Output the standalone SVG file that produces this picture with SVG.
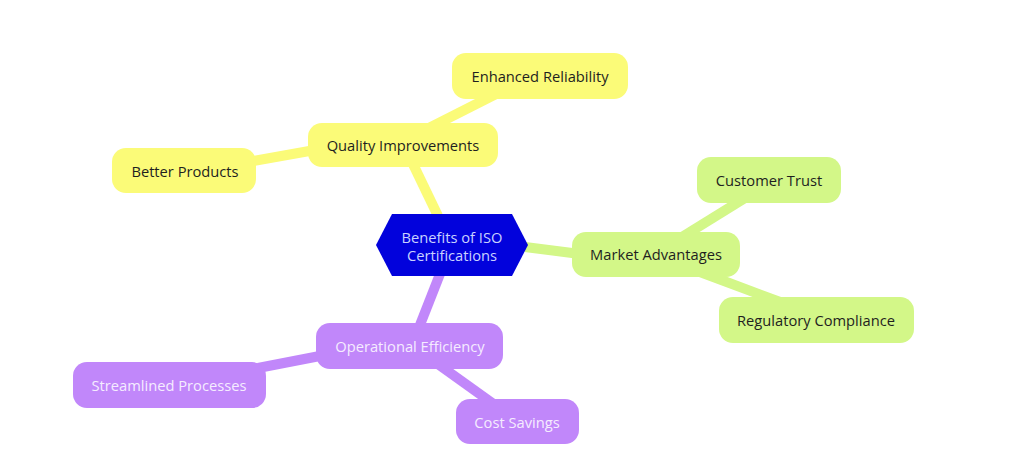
<svg xmlns="http://www.w3.org/2000/svg" width="1024" height="458" viewBox="0 0 1024 458">
<style>
.t{font-family:"Open Sans","Noto Sans","Liberation Sans",sans-serif;font-size:14.7px;text-anchor:middle;dominant-baseline:central}
.dk{fill:#1f1f1f}
.lt{fill:#f5ecff}
.y{fill:#fbfb78}
.g{fill:#d3f788}
.p{fill:#c187fa}
.cy{stroke:#fbfb78}
.cg{stroke:#d3f788}
.cp{stroke:#c187fa}
#connectors line{stroke-width:10;stroke-linecap:butt}
</style>
<rect width="1024" height="458" fill="#ffffff"/>
<g id="connectors">
<line class="cy" x1="438" y1="216" x2="412" y2="162"/>
<line class="cy" x1="425" y1="130" x2="500" y2="92"/>
<line class="cy" x1="315" y1="150" x2="248" y2="162"/>
<line class="cg" x1="525" y1="247" x2="580" y2="254"/>
<line class="cg" x1="682" y1="237" x2="745" y2="198"/>
<line class="cg" x1="700" y1="272" x2="780" y2="302"/>
<line class="cp" x1="440" y1="274" x2="418" y2="330"/>
<line class="cp" x1="325" y1="355" x2="258" y2="368"/>
<line class="cp" x1="435" y1="362" x2="495" y2="405"/>
</g>
<g id="center">
<polygon points="376,245 392,214 512,214 528,245 512,276 392,276" fill="#0202dc"/>
<text class="t" x="452" y="237" fill="#c9d2ff">Benefits of ISO</text>
<text class="t" x="452" y="255" fill="#c9d2ff">Certifications</text>
</g>
<g id="quality">
<rect class="y" x="308" y="123" width="190" height="44" rx="14"/>
<text class="t dk" x="403" y="145">Quality Improvements</text>
</g>
<g id="reliability">
<rect class="y" x="452" y="53" width="176" height="46" rx="14"/>
<text class="t dk" x="540" y="76">Enhanced Reliability</text>
</g>
<g id="better">
<rect class="y" x="112" y="148" width="144" height="45" rx="14"/>
<text class="t dk" x="185" y="171">Better Products</text>
</g>
<g id="market">
<rect class="g" x="572" y="232" width="168" height="45" rx="14"/>
<text class="t dk" x="656" y="254">Market Advantages</text>
</g>
<g id="trust">
<rect class="g" x="697" y="157" width="144" height="46" rx="14"/>
<text class="t dk" x="769" y="180">Customer Trust</text>
</g>
<g id="regulatory">
<rect class="g" x="719" y="297" width="195" height="46" rx="14"/>
<text class="t dk" x="816" y="320">Regulatory Compliance</text>
</g>
<g id="operational">
<rect class="p" x="316" y="323" width="187" height="46" rx="14"/>
<text class="t lt" x="410" y="346">Operational Efficiency</text>
</g>
<g id="streamlined">
<rect class="p" x="73" y="362" width="193" height="46" rx="14"/>
<text class="t lt" x="169" y="385">Streamlined Processes</text>
</g>
<g id="cost">
<rect class="p" x="456" y="399" width="123" height="45" rx="14"/>
<text class="t lt" x="517" y="422">Cost Savings</text>
</g>
</svg>
